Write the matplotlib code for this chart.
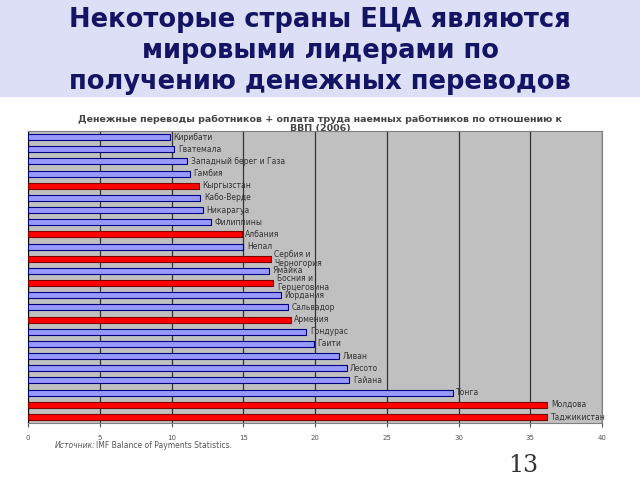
"""Remittances to GDP chart (2006), ECA countries highlighted"""
import matplotlib
matplotlib.use("Agg")
from matplotlib import pyplot as plt
from matplotlib.patches import Rectangle

# data, top to bottom
countries = ["Кирибати", "Гватемала", "Западный берег и Газа", "Гамбия",
             "Кыргызстан", "Кабо-Верде", "Никарагуа", "Филиппины",
             "Албания", "Непал", "Сербия и\nЧерногория", "Ямайка",
             "Босния и\nГерцеговина", "Иордания", "Сальвадор", "Армения",
             "Гондурас", "Гаити", "Ливан", "Лесото", "Гайана", "Тонга",
             "Молдова", "Таджикистан"]
values = [9.9, 10.2, 11.1, 11.3, 11.9, 12.0, 12.2, 12.75, 14.9, 15.0,
          16.9, 16.8, 17.1, 17.6, 18.1, 18.3, 19.4, 19.9, 21.7, 22.2,
          22.4, 29.6, 36.2, 36.2]
is_eca = [False, False, False, False, True, False, False, False, True,
          False, True, False, True, False, False, True, False, False,
          False, False, False, False, True, True]
xticks = [0, 5, 10, 15, 20, 25, 30, 35, 40]

title = "Некоторые страны ЕЦА являются\nмировыми лидерами по\nполучению денежных переводов"
subtitle = ("Денежные переводы работников + оплата труда наемных работников по отношению к\n"
            "ВВП (2006)")


def main():
    fig = plt.figure(figsize=(6.4, 4.8), dpi=100)

    # lavender title band
    fig.patches.append(Rectangle((0, 1 - 96 / 480), 1, 96 / 480,
                                 transform=fig.transFigure,
                                 color="#dcdff5", zorder=-2))
    fig.text(0.5, 1 - 51 / 480, title, ha="center", va="center",
             fontsize=18.5, fontweight="bold", color="#141464",
             linespacing=1.25)
    # drawn below the axes so the plot box hides part of the 2nd line
    fig.text(0.5, 1 - 124 / 480, subtitle, ha="center", va="center",
             fontsize=6.8, fontweight="bold", color="#454545",
             linespacing=1.1, zorder=-1)

    ax = fig.add_axes([28 / 640, 1 - 423 / 480, 574 / 640, 292 / 480])
    ax.set_facecolor("#c0c0c0")
    ypos = list(range(len(countries)))
    colors = ["#ff0000" if e else "#9999ff" for e in is_eca]
    edges = ["#800000" if e else "#000080" for e in is_eca]
    ax.barh(ypos, values, height=0.5, color=colors, edgecolor=edges,
            linewidth=0.8, zorder=3)
    for y, v, name in zip(ypos, values, countries):
        ax.text(v + 0.25, y, name, va="center", ha="left", fontsize=5.5,
                color="#333333", zorder=4, linespacing=1.0)

    ax.set_xlim(0, 40)
    ax.set_ylim(len(countries) - 0.5, -0.5)
    ax.set_xticks(xticks)
    ax.set_yticks([])
    ax.tick_params(axis="x", labelsize=5, colors="#555555", length=3,
                   pad=6)
    ax.grid(axis="x", color="#333333", linewidth=0.9, zorder=1)
    for side in ["top", "right", "bottom"]:
        ax.spines[side].set_color("#808080")
    ax.spines["left"].set_color("#000000")

    fig.text(55 / 640, 1 - 446 / 480, "Источник:", style="italic",
             fontsize=5.5, color="#555555", va="center")
    fig.text(96 / 640, 1 - 446 / 480, "IMF Balance of Payments Statistics.",
             fontsize=5.5, color="#555555", va="center")
    fig.text(508 / 640, 1 - 465 / 480, "13", fontsize=17,
             family="DejaVu Serif", color="#333333", va="center")

    fig.savefig("out.png", dpi=100)


if __name__ == '__main__':
    main()
